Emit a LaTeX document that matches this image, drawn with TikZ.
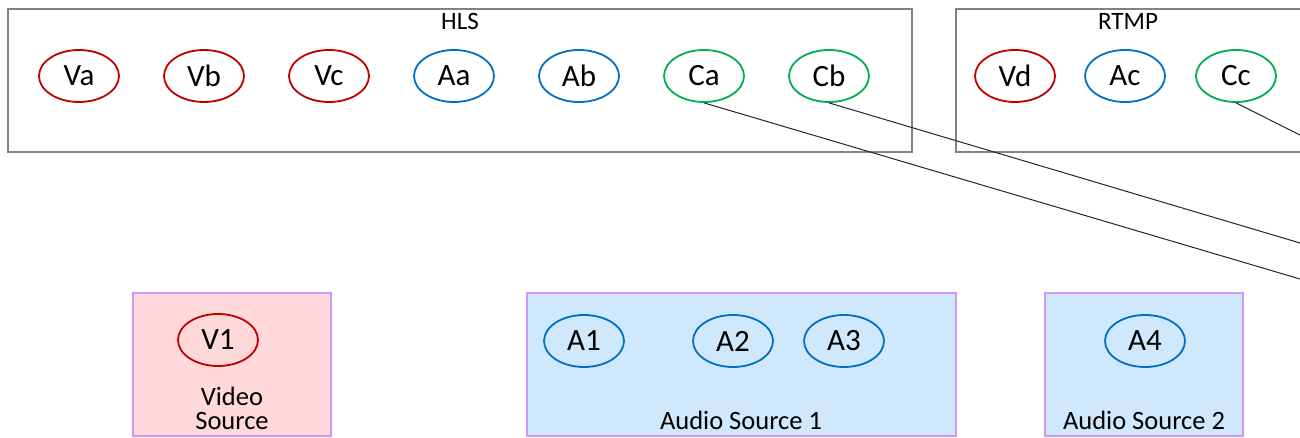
\documentclass[tikz,border=0pt]{standalone}
\usepackage{fontspec}
\setmainfont{Carlito}
\usetikzlibrary{shapes.geometric}
\definecolor{vidred}{RGB}{192,0,0}
\definecolor{audblue}{RGB}{0,112,192}
\definecolor{capgreen}{RGB}{0,176,80}
\definecolor{framegray}{RGB}{130,130,130}
\definecolor{srcborder}{RGB}{210,150,250}
\definecolor{vidfill}{RGB}{255,217,218}
\definecolor{audfill}{RGB}{207,232,252}
\tikzset{
  x=1pt, y=-1pt,
  track/.style={ellipse, draw, line width=1.8pt, minimum width=80pt, minimum height=52pt,
    inner sep=0pt, font=\fontsize{31}{33}\selectfont},
  vtrack/.style={track, draw=vidred},
  atrack/.style={track, draw=audblue},
  ctrack/.style={track, draw=capgreen},
  group/.style={draw=framegray, line width=2pt},
  grouplabel/.style={font=\fontsize{25}{27}\selectfont, inner sep=0pt},
  source/.style={draw=srcborder, line width=2pt},
  srclabel/.style={font=\fontsize{26.5}{28}\selectfont, inner sep=0pt, align=center},
  link/.style={draw=black!85, line width=1pt}
}
\begin{document}
\begin{tikzpicture}
\useasboundingbox (0,0) rectangle (1300,438);
\clip (0,0) rectangle (1300,438);

% output groups
\draw[group] (8,9) rectangle (912,152);
\node[grouplabel] (hls) at (460,21) {HLS};
\draw[group] (956,9) rectangle (1320,152);
\node[grouplabel] (rtmp) at (1128,21) {RTMP};

\node[vtrack] (Va) at (79,76) {Va};
\node[vtrack] (Vb) at (204,76) {Vb};
\node[vtrack] (Vc) at (329,76) {Vc};
\node[atrack] (Aa) at (454,76) {Aa};
\node[atrack] (Ab) at (579,76) {Ab};
\node[ctrack] (Ca) at (704,76) {Ca};
\node[ctrack] (Cb) at (829,76) {Cb};

\node[vtrack] (Vd) at (1015,76) {Vd};
\node[atrack] (Ac) at (1125,76) {Ac};
\node[ctrack] (Cc) at (1236,76) {Cc};

% input sources
\draw[source, fill=vidfill] (133,293) rectangle (331,436);
\node[vtrack] (V1) at (218,340) {V1};
\node[srclabel] (vsrc) at (232,408) {Video\\[-4pt]Source};

\draw[source, fill=audfill] (527,293) rectangle (956,436);
\node[atrack] (A1) at (584,341) {A1};
\node[atrack] (A2) at (733,341) {A2};
\node[atrack] (A3) at (844,341) {A3};
\node[srclabel] (asrc1) at (741,420) {Audio Source 1};

\draw[source, fill=audfill] (1045,293) rectangle (1243,436);
\node[atrack] (A4) at (1145,341) {A4};
\node[srclabel] (asrc2) at (1144,420) {Audio Source 2};

% caption links leaving the frame
\coordinate (caEnd) at (1300,279);
\coordinate (cbEnd) at (1300,243);
\coordinate (ccEnd) at (1300,135);
\draw[link] (Ca.south) -- (caEnd);
\draw[link] (Cb.south) -- (cbEnd);
\draw[link] (Cc.south) -- (ccEnd);
\end{tikzpicture}
\end{document}
